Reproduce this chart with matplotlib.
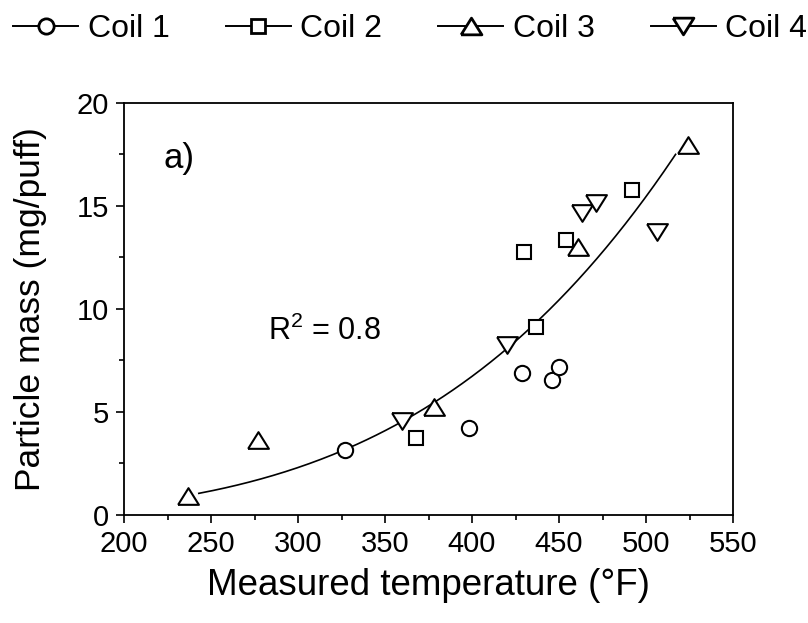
import numpy as np
import matplotlib
matplotlib.use("Agg")
import matplotlib.pyplot as plt
from matplotlib.lines import Line2D

plt.rcParams['font.family'] = ['Liberation Sans', 'DejaVu Sans']
plt.rcParams['mathtext.fontset'] = 'custom'
plt.rcParams['mathtext.rm'] = 'Liberation Sans'

# ---- data ----
series_names = ["Coil 1", "Coil 2", "Coil 3", "Coil 4"]
coil1_temp = [327, 398, 429, 446, 450]
coil1_mass = [3.15, 4.2, 6.87, 6.55, 7.16]
coil2_temp = [368, 430, 437, 454, 492]
coil2_mass = [3.72, 12.77, 9.14, 13.34, 15.76]
coil3_temp = [237, 277, 378, 461, 524]
coil3_mass = [0.92, 3.64, 5.22, 13.0, 17.93]
coil4_temp = [359.5, 420, 463, 471, 506.5]
coil4_mass = [4.58, 8.25, 14.66, 15.15, 13.74]

# power-law trend line: y = a * (x / x0) ** n
fit_x_start, fit_x_end = 243, 517
fit_a, fit_x0, fit_n = 1.05, 243, 3.726
r2_text = r"R$^2$ = 0.8"
panel_label = "a)"

xticks = [200, 250, 300, 350, 400, 450, 500, 550]
yticks = [0, 5, 10, 15, 20]

# ---- markers ----
tri_up = [(-1, -0.8), (1, -0.8), (0, 0.8), (-1, -0.8)]
tri_dn = [(-1, 0.8), (1, 0.8), (0, -0.8), (-1, 0.8)]
markers = ['o', 's', tri_up, tri_dn]
msizes = [11, 10.5, 15, 15]

fig = plt.figure(figsize=(8.08, 6.23), dpi=100)
ax = fig.add_axes([124/808, 1-515/623, (733-124)/808, (515-102.7)/623])

temps = [coil1_temp, coil2_temp, coil3_temp, coil4_temp]
masses = [coil1_mass, coil2_mass, coil3_mass, coil4_mass]

# trend line
fx = np.linspace(fit_x_start, fit_x_end, 200)
fy = fit_a * (fx / fit_x0) ** fit_n
ax.plot(fx, fy, color='black', lw=1.2, zorder=2)

handles = []
for t, m, mk, ms, name in zip(temps, masses, markers, msizes, series_names):
    ax.plot(t, m, linestyle='none', marker=mk, ms=ms, mfc='white',
            mec='black', mew=1.5, zorder=3)
    handles.append(Line2D([], [], color='black', lw=1.4, marker=mk, ms=ms,
                          mfc='white', mec='black', mew=2.0, label=name))

ax.set_xlim(200, 550)
ax.set_ylim(0, 20)
ax.set_xticks(xticks)
ax.set_yticks(yticks)
ax.set_xticks(np.arange(225, 550, 50), minor=True)
ax.set_yticks(np.arange(2.5, 20, 5), minor=True)
ax.tick_params(which='major', direction='out', length=6, width=1.2,
               labelsize=21, pad=5, top=False, right=False)
ax.tick_params(which='minor', direction='out', length=3.5, width=1.2,
               top=False, right=False)
for s in ax.spines.values():
    s.set_linewidth(1.3)

ax.set_xlabel("Measured temperature (°F)", fontsize=26.5, labelpad=7)
ax.set_ylabel("Particle mass (mg/puff)", fontsize=25.5, labelpad=21)

ax.text(222.7, 16.85, panel_label, fontsize=25, ha='left', va='baseline')
ax.text(283, 8.5, r2_text, fontsize=22, ha='left', va='baseline')

fig.legend(handles=handles, loc='center left', bbox_to_anchor=(13/808, 1-29/623),
           ncol=4, frameon=False, fontsize=23, handlelength=2.04,
           handletextpad=0.3, columnspacing=1.75, borderpad=0, borderaxespad=0)

fig.savefig("out.png", dpi=100)
